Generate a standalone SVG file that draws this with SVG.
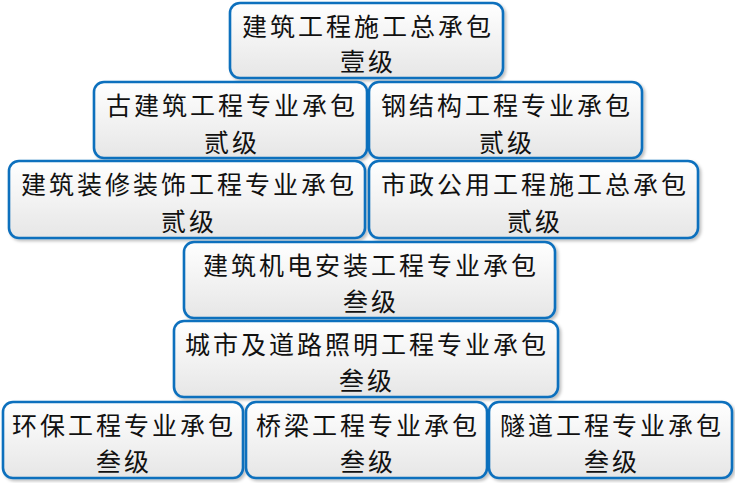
<svg xmlns="http://www.w3.org/2000/svg" width="735" height="483" viewBox="0 0 735 483">
<defs>
<linearGradient id="g" x1="0" y1="0" x2="0" y2="1">
<stop offset="0" stop-color="#ffffff"/>
<stop offset="1" stop-color="#e6e6e6"/>
</linearGradient>
<filter id="sh" x="-5%" y="-5%" width="115%" height="120%">
<feDropShadow dx="2" dy="2" stdDeviation="1.5" flood-color="#000" flood-opacity="0.25"/>
</filter>
</defs>
<style>
rect.b{fill:url(#g);stroke:#0b6fbd;stroke-width:2.6;filter:url(#sh)}
text{font-family:"Noto Sans CJK SC","Noto Sans CJK JP",sans-serif;font-size:25px;fill:#111;text-anchor:middle;dominant-baseline:central;letter-spacing:3px}
</style>
<rect width="735" height="483" fill="#fff"/>
<g id="connectors"></g>
<g id="n1"><rect class="b" x="230" y="3" width="273" height="75" rx="10"/><text x="368" y="25">建筑工程施工总承包</text><text x="368" y="60">壹级</text></g>
<g id="n2"><rect class="b" x="94" y="82" width="273" height="76" rx="10"/><text x="232" y="104">古建筑工程专业承包</text><text x="232" y="141">贰级</text></g>
<g id="n3"><rect class="b" x="369" y="82" width="273" height="76" rx="10"/><text x="507" y="104">钢结构工程专业承包</text><text x="507" y="141">贰级</text></g>
<g id="n4"><rect class="b" x="9" y="161" width="356" height="77" rx="10"/><text x="189" y="183">建筑装修装饰工程专业承包</text><text x="189" y="220">贰级</text></g>
<g id="n5"><rect class="b" x="369" y="161" width="329" height="77" rx="10"/><text x="535" y="183">市政公用工程施工总承包</text><text x="535" y="220">贰级</text></g>
<g id="n6"><rect class="b" x="184" y="242" width="371" height="76" rx="10"/><text x="371" y="264">建筑机电安装工程专业承包</text><text x="371" y="300">叁级</text></g>
<g id="n7"><rect class="b" x="174" y="321" width="384" height="76" rx="10"/><text x="367" y="343">城市及道路照明工程专业承包</text><text x="367" y="379">叁级</text></g>
<g id="n8"><rect class="b" x="3" y="402" width="240" height="76" rx="10"/><text x="124" y="424">环保工程专业承包</text><text x="124" y="460">叁级</text></g>
<g id="n9"><rect class="b" x="246" y="402" width="241" height="76" rx="10"/><text x="368" y="424">桥梁工程专业承包</text><text x="368" y="460">叁级</text></g>
<g id="n10"><rect class="b" x="489" y="402" width="243" height="76" rx="10"/><text x="612" y="424">隧道工程专业承包</text><text x="612" y="460">叁级</text></g>
</svg>
